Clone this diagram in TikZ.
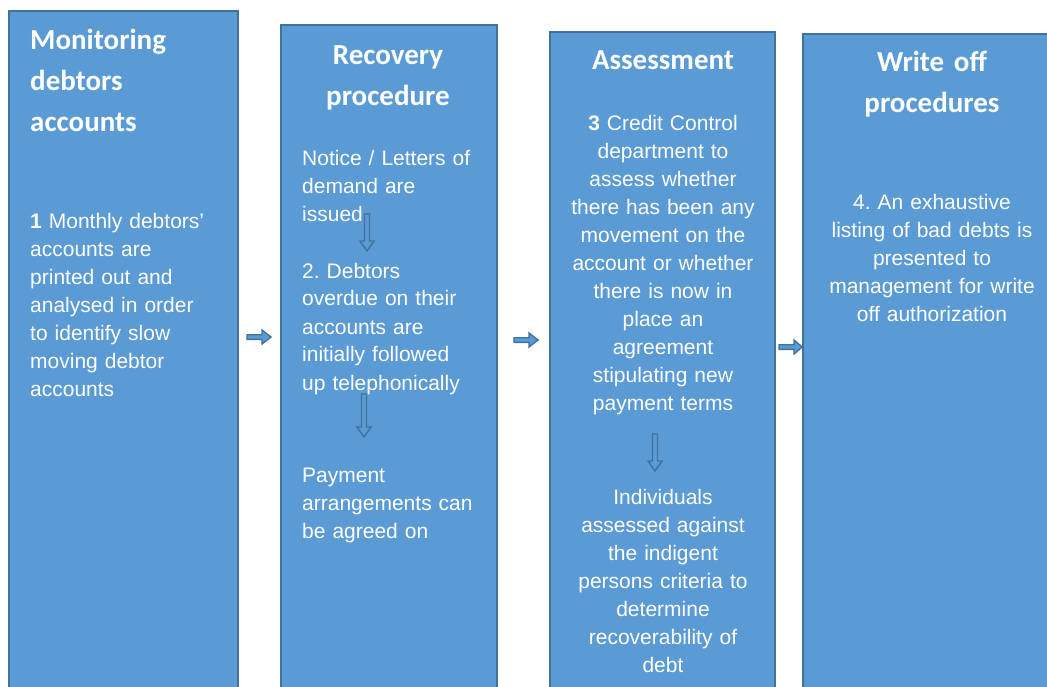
\documentclass[tikz,border=0pt]{standalone}
\usepackage{fontspec}
\setmainfont{Liberation Sans}
\newfontfamily\headfont{Carlito}
\definecolor{boxfill}{HTML}{5B9BD5}
\definecolor{boxline}{HTML}{41719C}
\frenchspacing
\tikzset{
  stagebox/.style={draw=boxline, fill=boxfill, line width=2pt, rectangle, inner sep=0pt, anchor=north west},
  headtext/.style={text=white, inner sep=0pt, font=\headfont\bfseries\fontsize{29}{41}\selectfont},
  bodytext/.style={text=white, inner sep=0pt, font=\frenchspacing\fontsize{21}{28}\selectfont},
  arrowline/.style={draw=boxline, fill=boxfill, line width=1.4pt, line join=miter},
  pics/harrow/.style={code={\draw[arrowline] (0,-2.3) -- (15,-2.3) -- (15,-7) -- (#1,0) -- (15,7) -- (15,2.3) -- (0,2.3) -- cycle;}},
  pics/varrow/.style={code={\draw[arrowline] (-2.5,0) -- (-2.5,#1-10) -- (-7,#1-10) -- (0,#1) -- (7,#1-10) -- (2.5,#1-10) -- (2.5,0) -- cycle;}}
}
\begin{document}
\begin{tikzpicture}[x=1pt,y=-1pt]
\useasboundingbox (0,0) rectangle (1047,687);
\fill[white] (0,0) rectangle (1047,687);
\clip (0,0) rectangle (1047,687);
% boxes
\node[stagebox, minimum width=229pt, minimum height=720pt] (b1) at (8,10) {};
\node[stagebox, minimum width=216pt, minimum height=720pt] (b2) at (280,24) {};
\node[stagebox, minimum width=225pt, minimum height=720pt] (b3) at (549,31) {};
\node[stagebox, minimum width=260pt, minimum height=720pt] (b4) at (802,33) {};
% box 1
\node[headtext, text width=200pt, align=left, anchor=base west] (h1) at (30,50) {Monitoring\\debtors\\accounts};
\node[bodytext, text width=205pt, align=left, anchor=base west] (t1) at (30,229) {\textbf{1} Monthly debtors’\\accounts are\\printed out and\\analysed in order\\to identify slow\\moving debtor\\accounts};
% box 2
\node[headtext, text width=210pt, align=center, anchor=base] (h2) at (388,65) {Recovery\\procedure};
\node[bodytext, text width=190pt, align=left, anchor=base west] (t2a) at (302,166) {Notice / Letters of\\demand are\\issued};
\node[bodytext, text width=190pt, align=left, anchor=base west] (t2b) at (302,278) {2. Debtors\\overdue on their\\accounts are\\initially followed\\up telephonically};
\node[bodytext, text width=190pt, align=left, anchor=base west] (t2c) at (302,482) {Payment\\arrangements can\\be agreed on};
% box 3
\node[headtext, text width=215pt, align=center, anchor=base] (h3) at (663,70) {Assessment};
\node[bodytext, text width=215pt, align=center, anchor=base] (t3a) at (663,131) {\textbf{3} Credit Control\\department to\\assess whether\\there has been any\\movement on the\\account or whether\\there is now in\\place an\\agreement\\stipulating new\\payment terms};
\node[bodytext, text width=215pt, align=center, anchor=base] (t3b) at (663,504) {Individuals\\assessed against\\the indigent\\persons criteria to\\determine\\recoverability of\\debt};
% box 4
\node[headtext, text width=230pt, align=center, anchor=base] (h4) at (932,72) {Write off\\procedures};
\node[bodytext, text width=230pt, align=center, anchor=base] (t4) at (932,210) {4. An exhaustive\\listing of bad debts is\\presented to\\management for write\\off authorization};
% arrows between stages
\pic at (247,337) {harrow=24};
\pic at (514,340) {harrow=24};
\pic at (779,347) {harrow=23};
% arrows within stages
\pic at (367,214) {varrow=37};
\pic at (364,394) {varrow=43};
\pic at (655,434) {varrow=37};
\end{tikzpicture}
\end{document}
